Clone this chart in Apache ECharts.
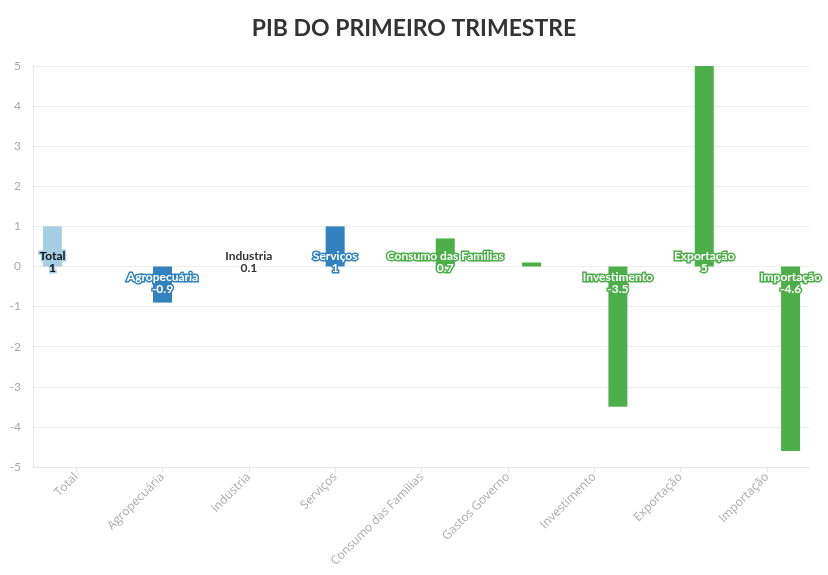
<!DOCTYPE html>
<html><head><meta charset="utf-8">
<script src="https://cdn.jsdelivr.net/npm/echarts@6/dist/echarts.min.js"></script>
<style>html,body{margin:0;padding:0;background:#fff}#c{width:828px;height:575px}</style>
</head><body><div id="c"></div>
<script>
const categories = ['Total','Agropecuária','Industria','Serviços','Consumo das Familias','Gastos Governo','Investimento','Exportação','Importação'];
const totalValues = [1, null, null, null, null, null, null, null, null];
const setorValues = [null, -0.9, 0.1, 1, null, null, null, null, null];
const demandaValues = [null, null, null, null, 0.7, 0.1, -3.5, 5, -4.6];
const yTicks = [-5, -4, -3, -2, -1, 0, 1, 2, 3, 4, 5];

const FONT = 'Lato, "Noto Sans", sans-serif';
const colors = {total: '#a6cee3', setor: '#3182bd', demanda: '#4daf4a', industria: '#ffffff'};

function labelFor(v, color, textColor, show) {
  const pos = v >= 0 ? {position: 'insideBottom', offset: [0, 13]} : {position: 'insideTop', offset: [0, 0]};
  return Object.assign({
    show: show,
    distance: 5,
    formatter: p => p.name + '\n' + p.value,
    fontFamily: FONT,
    fontWeight: 'bold',
    fontSize: 12,
    lineHeight: 12,
    color: textColor,
    textBorderColor: color,
    textBorderWidth: 3
  }, pos);
}

function build(values, color, textColor) {
  return values.map((v, i) => {
    if (v === null) return null;
    let c = color, tc = textColor, show = true;
    if (categories[i] === 'Industria') { c = colors.industria; tc = '#333'; }
    if (categories[i] === 'Gastos Governo') { show = false; }
    return {value: v, itemStyle: {color: c}, label: labelFor(v, c, tc, show)};
  });
}

const chart = echarts.init(document.getElementById('c'));
chart.setOption({
  animation: false,
  backgroundColor: '#fff',
  title: {
    text: 'PIB DO PRIMEIRO TRIMESTRE',
    left: 'center', top: 12,
    textStyle: {fontFamily: FONT, fontWeight: 'bold', fontSize: 23, color: '#333'}
  },
  grid: {left: 33, right: 18, top: 66, bottom: 108, containLabel: false},
  xAxis: {
    type: 'category',
    data: categories,
    axisLine: {show: true, onZero: false, lineStyle: {color: '#e6e6e6'}},
    axisTick: {show: true, alignWithLabel: true, length: 5, lineStyle: {color: '#e6e6e6'}},
    axisLabel: {rotate: 45, color: '#aaa', fontFamily: '"Open Sans", sans-serif', fontSize: 12, margin: 8, interval: 0}
  },
  yAxis: {
    type: 'value',
    min: yTicks[0], max: yTicks[yTicks.length - 1], interval: 1,
    axisLine: {show: true, lineStyle: {color: '#e6e6e6'}},
    axisTick: {show: false},
    axisLabel: {color: '#aaa', fontFamily: FONT, fontSize: 12, margin: 12},
    splitLine: {show: true, lineStyle: {color: '#eeeeee'}}
  },
  series: [
    {name: 'Total', type: 'bar', barWidth: 19, barGap: '25%', data: build(totalValues, colors.total, '#111')},
    {name: 'Setor', type: 'bar', barWidth: 19, barGap: '25%', data: build(setorValues, colors.setor, '#fff')},
    {name: 'Demanda', type: 'bar', barWidth: 19, barGap: '25%', data: build(demandaValues, colors.demanda, '#fff')}
  ]
});
</script>
</body></html>
